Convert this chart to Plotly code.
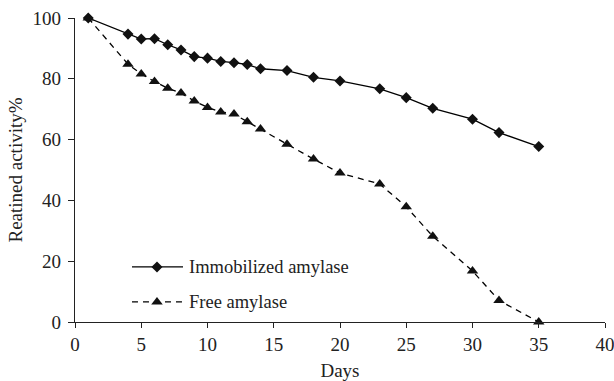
import plotly.graph_objects as go

days_imm = [1, 4, 5, 6, 7, 8, 9, 10, 11, 12, 13, 14, 16, 18, 20, 23, 25, 27, 30, 32, 35]
imm = [100, 94.7, 93.1, 93.2, 91.2, 89.5, 87.3, 86.8, 85.7, 85.3, 84.7, 83.3, 82.7, 80.5, 79.3, 76.7, 73.8, 70.3, 66.7, 62.3, 57.7]
days_free = [1, 4, 5, 6, 7, 8, 9, 10, 11, 12, 13, 14, 16, 18, 20, 23, 25, 27, 30, 32, 35]
free = [100, 84.8, 81.6, 79.1, 76.9, 75.3, 72.7, 70.6, 69.1, 68.4, 65.9, 63.5, 58.5, 53.6, 49.0, 45.4, 37.9, 28.2, 16.8, 7.1, 0]
names = ["Immobilized amylase", "Free amylase"]
x_ticks = [0, 5, 10, 15, 20, 25, 30, 35, 40]
y_ticks = [0, 20, 40, 60, 80, 100]

FONT = "Liberation Serif"
fig = go.Figure()
fig.add_trace(go.Scatter(x=days_imm, y=imm, mode="lines+markers",
                         line=dict(color="black", width=1.3),
                         marker=dict(symbol="diamond", size=8.5, color="#111"),
                         cliponaxis=False, showlegend=False))
fig.add_trace(go.Scatter(x=days_free, y=free, mode="lines+markers",
                         line=dict(color="black", width=1.3, dash="6px,5px"),
                         marker=dict(symbol="triangle-up", size=10, color="#111"),
                         cliponaxis=False, showlegend=False))

# custom legend on hidden overlay axes
leg = [(0.1812, "diamond", "solid", 8.5), (0.0659, "triangle-up", "6px,5px", 10)]
for (yy, sym, dash, sz), nm in zip(leg, names):
    fig.add_trace(go.Scatter(x=[0.1075, 0.2038], y=[yy, yy], mode="lines",
                             line=dict(color="black", width=1.3, dash=dash),
                             xaxis="x2", yaxis="y2", showlegend=False, hoverinfo="skip"))
    fig.add_trace(go.Scatter(x=[0.1547], y=[yy], mode="markers",
                             marker=dict(symbol=sym, size=sz, color="#111"),
                             xaxis="x2", yaxis="y2", showlegend=False, hoverinfo="skip"))
    fig.add_annotation(x=0.211, y=yy, xref="x2", yref="y2", text=nm, showarrow=False,
                       xanchor="left", yanchor="middle",
                       font=dict(family=FONT, size=18.5, color="#222"))

fig.update_layout(
    width=614, height=381,
    margin=dict(l=75, r=9, t=18, b=59),
    plot_bgcolor="white", paper_bgcolor="white",
    font=dict(family=FONT, size=19, color="#222"),
    xaxis=dict(range=[0, 40], tickvals=x_ticks, showline=True, linecolor="#222", linewidth=1.3,
               ticks="outside", ticklen=5, tickcolor="#222", showgrid=False, zeroline=False,
               automargin=False, ticklabeloverflow="allow",
               title=dict(text="Days", font=dict(family=FONT, size=19), standoff=10)),
    yaxis=dict(range=[0, 100], tickvals=y_ticks, showline=True, linecolor="#222", linewidth=1.3,
               ticks="outside", ticklen=6, tickcolor="#222", showgrid=False, zeroline=False,
               automargin=False, ticklabeloverflow="allow", ticklabelstandoff=3,
               title=dict(text="Reatined activity%", font=dict(family=FONT, size=19), standoff=4)),
    xaxis2=dict(range=[0, 1], overlaying="x", visible=False, fixedrange=True),
    yaxis2=dict(range=[0, 1], overlaying="y", visible=False, fixedrange=True),
)
fig.write_html("out.html")
